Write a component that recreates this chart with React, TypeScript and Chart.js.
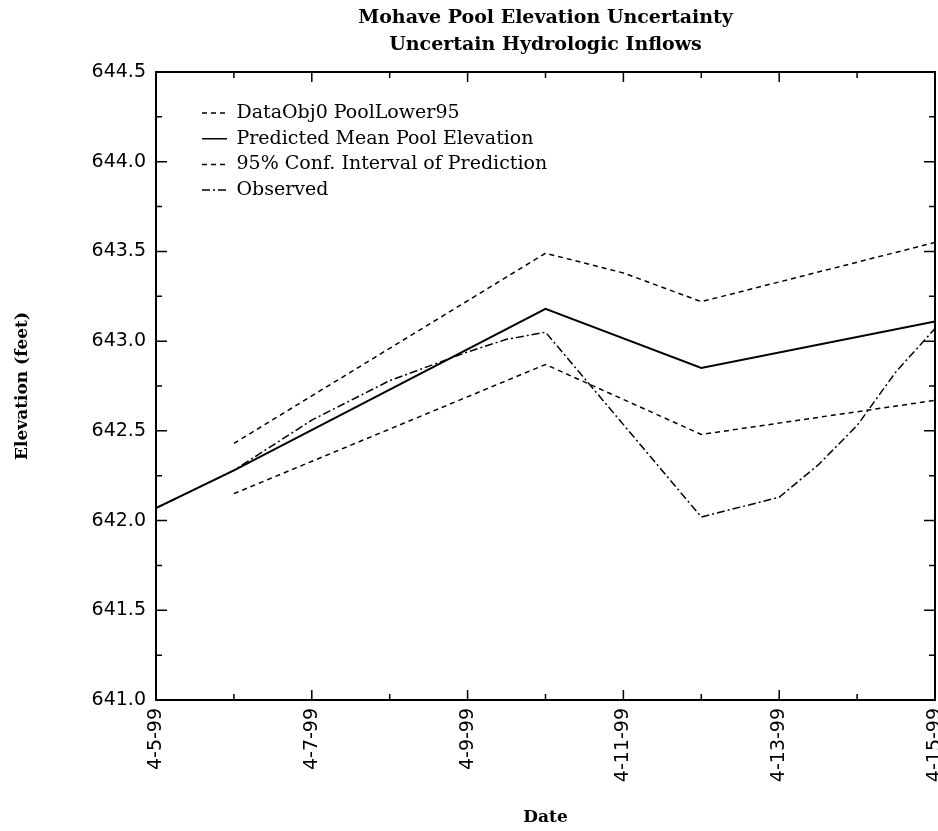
import React, { useEffect, useRef } from 'react';
import { Chart, registerables } from 'chart.js';

Chart.register(...registerables);

// ---- data ----
const titleLines = ['Mohave Pool Elevation Uncertainty', 'Uncertain Hydrologic Inflows'];
const xTitle = 'Date';
const yTitle = 'Elevation (feet)';
const seriesNames = [
  'DataObj0 PoolLower95',
  'Predicted Mean Pool Elevation',
  '95% Conf. Interval of Prediction',
  'Observed',
];
// days counted from 4-5-99
const tickDays = [0, 2, 4, 6, 8, 10];
const tickLabels = ['4-5-99', '4-7-99', '4-9-99', '4-11-99', '4-13-99', '4-15-99'];
const yMin = 641.0;
const yMax = 644.5;

const lowerDays = [1, 5, 7, 10];
const lowerValues = [642.15, 642.87, 642.48, 642.67];

const meanDays = [0, 1, 5, 7, 10];
const meanValues = [642.07, 642.28, 643.18, 642.85, 643.11];

const upperDays = [1, 5, 6, 7, 10];
const upperValues = [642.43, 643.49, 643.38, 643.22, 643.55];

const observedDays = [0, 1, 2, 3, 4, 4.5, 5, 7, 8, 8.5, 9, 9.5, 10];
const observedValues = [642.07, 642.28, 642.56, 642.78, 642.94, 643.01, 643.05, 642.02, 642.13, 642.31, 642.53, 642.83, 643.07];

const pts = (xs: number[], ys: number[]) => xs.map((x, i) => ({ x, y: ys[i] }));

export default function App() {
  const ref = useRef<HTMLCanvasElement>(null);

  useEffect(() => {
    if (!ref.current) return;

    const framePlugin = {
      id: 'frame',
      afterDatasetsDraw(chart: any) {
        const { ctx, chartArea: a, scales } = chart;
        const xs = scales.x;
        const ys = scales.y;
        ctx.save();
        ctx.strokeStyle = '#000';
        ctx.lineWidth = 1.5;
        ctx.setLineDash([]);
        ctx.beginPath();
        for (let k = 0; k <= 14; k++) {
          const v = yMin + k * 0.25;
          const y = ys.getPixelForValue(v);
          const len = k % 2 === 0 ? 11 : 6;
          ctx.moveTo(a.left, y);
          ctx.lineTo(a.left + len, y);
          ctx.moveTo(a.right, y);
          ctx.lineTo(a.right - len, y);
        }
        for (let d = 0; d <= 10; d++) {
          const x = xs.getPixelForValue(d);
          const len = d % 2 === 0 ? 10 : 6;
          ctx.moveTo(x, a.bottom);
          ctx.lineTo(x, a.bottom - len);
          ctx.moveTo(x, a.top);
          ctx.lineTo(x, a.top + len);
        }
        ctx.stroke();
        ctx.lineWidth = 2;
        ctx.strokeRect(a.left, a.top, a.right - a.left, a.bottom - a.top);
        ctx.restore();
      },
    };

    const legendPlace = {
      id: 'legendPlace',
      afterLayout(chart: any) {
        const l = chart.legend;
        const a = chart.chartArea;
        if (l && a) {
          const w = l.width;
          const h = l.height;
          l.left = a.left + 39.3;
          l.right = l.left + w;
          l.top = a.top + 24.8;
          l.bottom = l.top + h;
        }
      },
    };

    const common = { borderColor: '#000', backgroundColor: '#000', borderWidth: 1.5, pointRadius: 0, fill: false, tension: 0 };

    const chart = new Chart(ref.current, {
      type: 'line',
      data: {
        datasets: [
          { ...common, label: seriesNames[0], data: pts(lowerDays, lowerValues), borderDash: [5, 4] },
          { ...common, label: seriesNames[1], data: pts(meanDays, meanValues), borderWidth: 2 },
          { ...common, label: seriesNames[2], data: pts(upperDays, upperValues), borderDash: [5, 4] },
          { ...common, label: seriesNames[3], data: pts(observedDays, observedValues), borderDash: [8, 3, 2, 3] },
        ],
      },
      options: {
        animation: false,
        responsive: false,
        devicePixelRatio: 1,
        layout: { padding: { left: 0, right: 3, top: 0, bottom: 0 } },
        plugins: {
          title: {
            display: true,
            text: titleLines,
            fullSize: false,
            color: '#000',
            font: { family: 'DejaVu Serif', weight: 'bold', size: 19, lineHeight: 27 / 19 },
            padding: { top: 4.5, bottom: 13.5 },
          },
          legend: {
            position: 'chartArea',
            align: 'start',
            labels: {
              usePointStyle: true,
              pointStyle: 'line',
              pointStyleWidth: 25,
              padding: 6.7,
              color: '#000',
              font: { family: 'DejaVu Serif', size: 19 },
              generateLabels: (chart: any) => {
                const items = (Chart.defaults as any).plugins.legend.labels.generateLabels(chart);
                return items.map((it: any) => {
                  const ds = chart.data.datasets[it.datasetIndex];
                  return {
                    ...it,
                    pointStyle: 'line',
                    strokeStyle: '#000',
                    fillStyle: '#000',
                    lineWidth: 1.5,
                    lineDash: ds.borderDash || [],
                  };
                });
              },
            },
          },
          tooltip: { enabled: false },
        },
        scales: {
          x: {
            type: 'linear',
            min: 0,
            max: 10,
            grid: { display: false, drawTicks: false },
            border: { display: false },
            afterBuildTicks: (s: any) => {
              s.ticks = tickDays.map((v) => ({ value: v }));
            },
            ticks: {
              autoSkip: false,
              maxRotation: 90,
              minRotation: 90,
              padding: 8,
              color: '#000',
              font: { family: 'DejaVu Sans', size: 19 },
              callback: (v: any) => {
                const i = tickDays.indexOf(Number(v));
                return i >= 0 ? tickLabels[i] : '';
              },
            },
            title: {
              display: true,
              text: xTitle,
              color: '#000',
              font: { family: 'DejaVu Serif', weight: 'bold', size: 17 },
              padding: { top: 0, bottom: 3 },
            },
            afterFit: (s: any) => {
              s.height = 131;
              s.paddingLeft = 0;
              s.paddingRight = 0;
            },
          },
          y: {
            min: yMin,
            max: yMax,
            grid: { display: false, drawTicks: false },
            border: { display: false },
            ticks: {
              stepSize: 0.5,
              padding: 10,
              color: '#000',
              font: { family: 'DejaVu Sans', size: 19 },
              callback: (v: any) => Number(v).toFixed(1),
            },
            title: {
              display: true,
              text: yTitle,
              color: '#000',
              font: { family: 'DejaVu Serif', weight: 'bold', size: 17 },
              padding: { top: 12, bottom: 0 },
            },
            afterFit: (s: any) => {
              s.width = 156;
              s.paddingTop = 0;
              s.paddingBottom = 0;
            },
          },
        },
      } as any,
      plugins: [framePlugin, legendPlace],
    });

    return () => chart.destroy();
  }, []);

  return (
    <div style={{ position: 'absolute', left: 0, top: 0, width: 938, height: 831, background: '#fff' }}>
      <canvas ref={ref} width={938} height={831} style={{ display: 'block' }} />
    </div>
  );
}
